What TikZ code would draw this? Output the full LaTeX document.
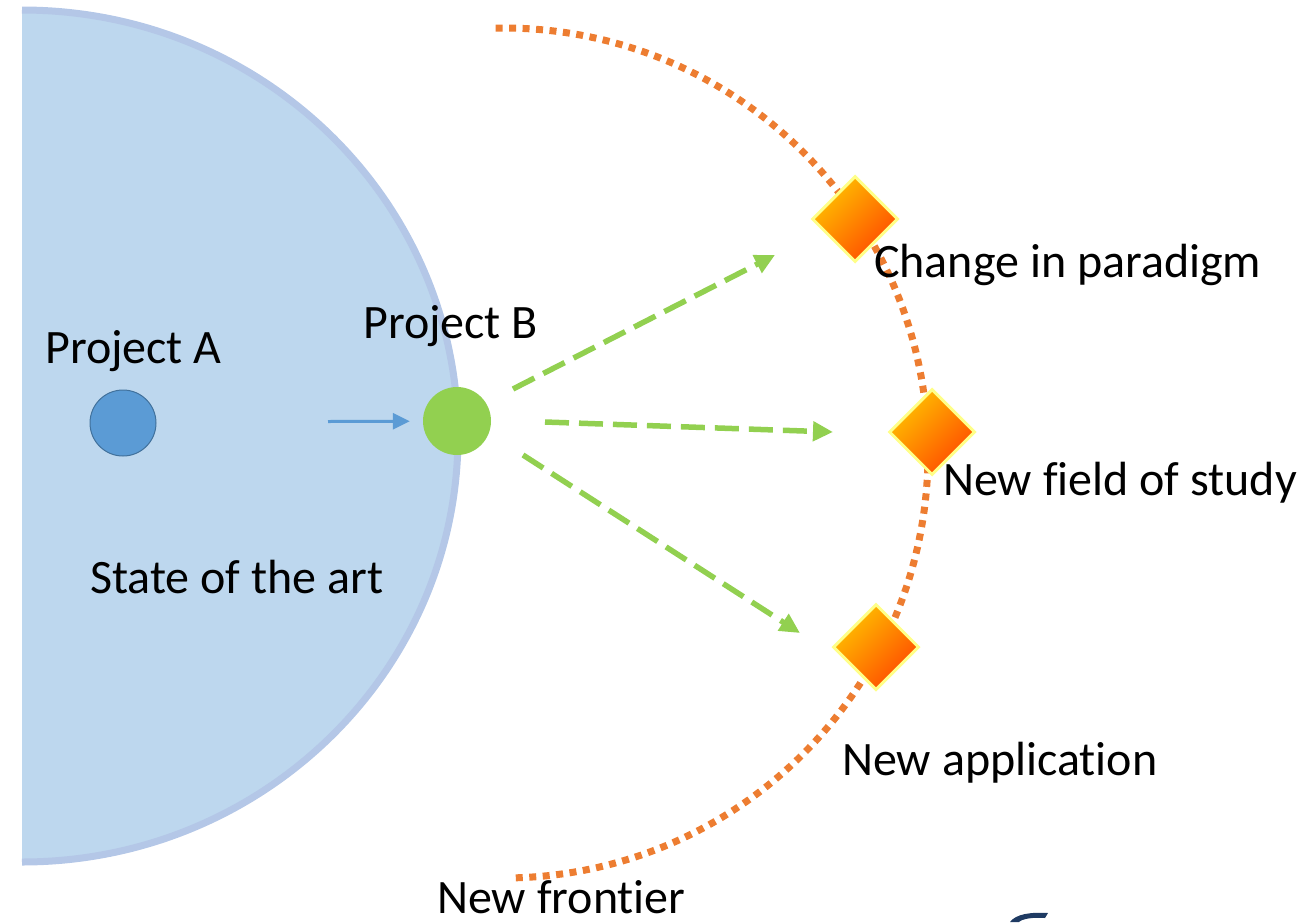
\documentclass[tikz,border=0pt]{standalone}
\usepackage{fontspec}
\setmainfont[Ligatures={NoCommon}]{Carlito}
\usetikzlibrary{shapes.geometric,arrows.meta}
\definecolor{artfill}{HTML}{BDD7EE}
\definecolor{artline}{HTML}{B4C7E7}
\definecolor{pa}{HTML}{5B9BD5}
\definecolor{paline}{HTML}{41719C}
\definecolor{pb}{HTML}{92D050}
\definecolor{front}{HTML}{ED7D31}
\definecolor{dtop}{HTML}{FFC000}
\definecolor{dbot}{HTML}{FF4A00}
\definecolor{dline}{HTML}{FFFF88}
\definecolor{logo}{HTML}{1F3B63}
\begin{document}
\begin{tikzpicture}[x=1pt,y=1pt,
  lbl/.style={font=\fontsize{48}{56}\selectfont, inner sep=0pt, text=black},
  dia/.style={diamond, aspect=1, minimum width=86pt, minimum height=86pt, inner sep=0pt,
    draw=dline, line width=3pt, top color=dtop, bottom color=dbot, shading angle=45},
  frontier/.style={front, line width=7pt, dash pattern=on 7pt off 6.5pt},
  bluearrow/.style={pa, line width=3pt, -{Triangle[length=17pt,width=16pt]}},
  greenarrow/.style={pb, line width=5.5pt, dash pattern=on 24pt off 10pt, -{Triangle[length=20pt,width=19pt]}}]
\useasboundingbox (0,0) rectangle (1312,-922);
% state of the art half disk
\fill[artfill] (22,-10) arc[start angle=90,end angle=-90,x radius=436,y radius=426] -- cycle;
\draw[artline,line width=7pt] (22,-10) arc[start angle=90,end angle=-90,x radius=436,y radius=426];
% new frontier arc
\draw[frontier] (503,-453) ++(91:425) arc[start angle=91,end angle=-89,radius=425];
% projects
\node[circle, fill=pa, draw=paline, line width=1pt, minimum size=66pt, inner sep=0pt] (pA) at (123,-423) {};
\node[circle, fill=pb, minimum size=68pt, inner sep=0pt] (pB) at (457,-421) {};
% diamonds
\node[dia] (d1) at (855,-219) {};
\node[dia] (d2) at (932,-432) {};
\node[dia] (d3) at (876,-647) {};
% arrows
\coordinate (bs) at (328,-421.5);
\draw[bluearrow, shorten >=13pt] (bs) -- (pB);
\coordinate (g1s) at (513,-389);
\coordinate (g1e) at (775,-255);
\coordinate (g2s) at (545,-422);
\coordinate (g2e) at (833,-432);
\coordinate (g3s) at (523,-455);
\coordinate (g3e) at (800,-633);
\draw[greenarrow] (g1s) -- (g1e);
\draw[greenarrow] (g2s) -- (g2e);
\draw[greenarrow] (g3s) -- (g3e);
% labels
\node[lbl, anchor=base west] (tA) at (45,-363) {Project A};
\node[lbl, anchor=base west] (tB) at (363,-338) {Project B};
\node[lbl, anchor=base west] (tS) at (90,-593) {State of the art};
\node[lbl, anchor=base west] (t1) at (874,-277) {Change in paradigm};
\node[lbl, anchor=base west] (t2) at (943,-495) {New field of study};
\node[lbl, anchor=base west] (t3) at (842,-775) {New application};
\node[lbl, anchor=base west] (t4) at (437,-913) {New frontier};
% logo fragment
\fill[logo] (1010,-922) .. controls (1016,-914) and (1030,-912) .. (1048,-913) -- (1045,-918) .. controls (1032,-917) and (1022,-919) .. (1019,-922) -- cycle;
\end{tikzpicture}
\end{document}
